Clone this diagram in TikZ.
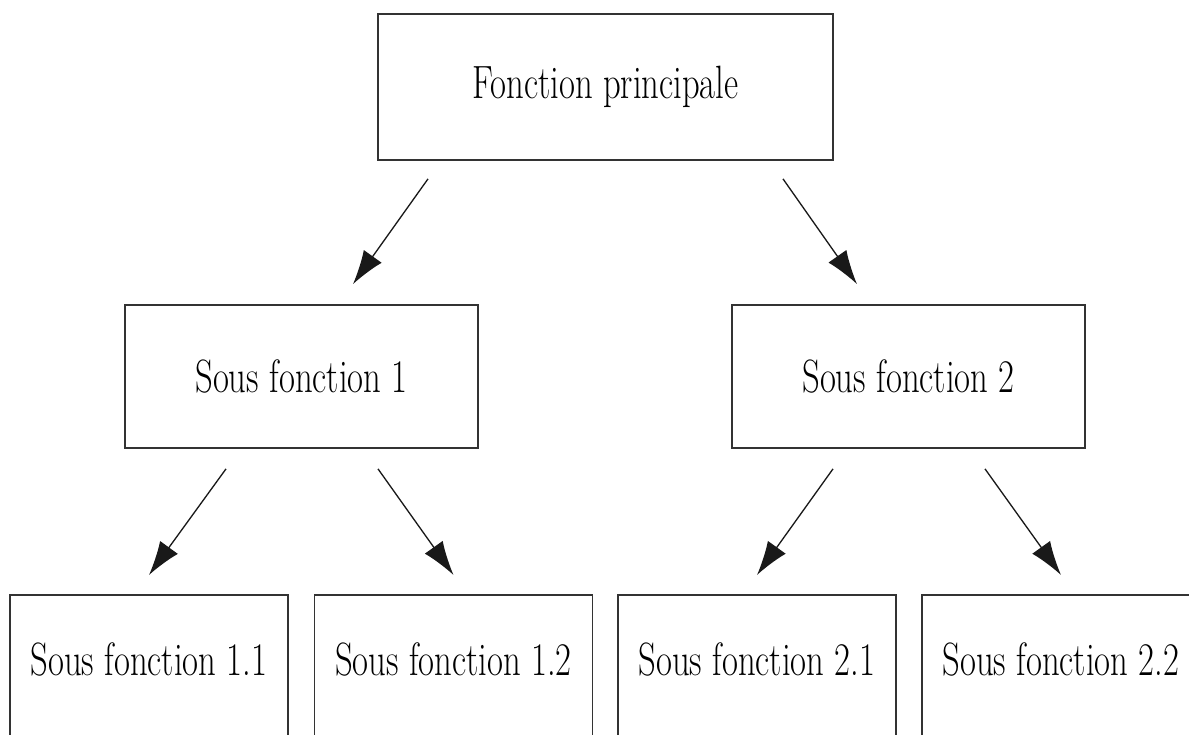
\documentclass[tikz,border=0pt]{standalone}
\usepackage{graphicx}
\usetikzlibrary{arrows.meta}
\newcommand{\tx}[1]{\scalebox{1}[1.35]{#1}}

\begin{document}
\begin{tikzpicture}[line width=1pt,
      box/.style={draw=black!80, rectangle, inner sep=0pt,
                  font=\fontsize{19.7}{24}\selectfont},
      arr/.style={-{Latex[length=6.8mm, width=4.4mm]}, line width=0.75pt, black!90}]
    \useasboundingbox (0,0) rectangle (23.78,-14.70);
    \clip (0,0) rectangle (23.78,-14.70);
    \node[box, minimum width=9.10cm, minimum height=2.92cm] (top) at (12.11,-1.74)
          {\tx{Fonction principale}};
    \foreach \n/\x/\t in {mid1/6.03/1, mid2/18.17/2}{
      \node[box, minimum width=7.06cm, minimum height=2.86cm] (\n) at (\x,-7.53)
            {\tx{Sous fonction \t}};
    }
    % boites du bas, coupees par le bord
    \foreach \n/\x/\t in {b11/2.98/1.1, b12/9.07/1.2, b21/15.14/2.1, b22/21.22/2.2}{
      \node[box, anchor=north, minimum width=5.56cm, minimum height=2.90cm,
            text depth=0.32cm] (\n) at (\x,-11.88) {\tx{Sous fonction \t}};
    }
    \foreach \c/\d/\e in {mid1/-3.55/1.03, mid2/3.55/-1.03}{
      \draw[arr] ([shift={(\d,-0.36)}]top.south) -- ([shift={(\e,0.40)}]\c.north);
    }
    \foreach \p/\c/\d in {mid1/b11/-1.51, mid1/b12/1.53, mid2/b21/-1.51, mid2/b22/1.53}{
      \draw[arr] ([shift={(\d,-0.40)}]\p.south) -- ([yshift=0.38cm]\c.north);
    }
  \end{tikzpicture}
\end{document}
